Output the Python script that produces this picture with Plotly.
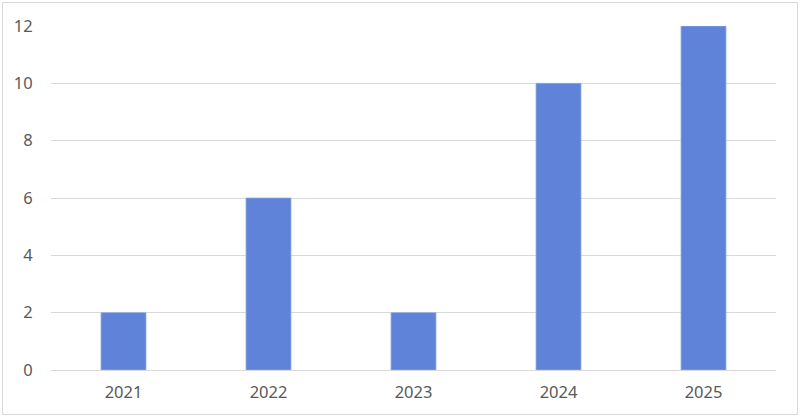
import plotly.graph_objects as go

years = ["2021", "2022", "2023", "2024", "2025"]
values = [2, 6, 2, 10, 12]
y_ticks = [0, 2, 4, 6, 8, 10, 12]

W, H = 800, 418
L, R, T, B = 51, 24, 26, 48
pw, ph = W - L - R, H - T - B

def px_x(p):
    return (p - L) / pw

def px_y(p):
    return (H - B - p) / ph

fig = go.Figure(go.Bar(
    x=years, y=values,
    marker=dict(color="#5f83d9", line=dict(color="#8fa9e6", width=0.8)),
))

fig.update_layout(
    width=W, height=H,
    margin=dict(l=L, r=R, t=T, b=B),
    paper_bgcolor="white", plot_bgcolor="white",
    bargap=0.69,
    showlegend=False,
    font=dict(family="Noto Sans", size=16.5, color="#595959"),
    xaxis=dict(showgrid=False, showline=True, linecolor="#d9d9d9", linewidth=1,
               ticks="outside", ticklen=7, tickcolor="rgba(0,0,0,0)"),
    yaxis=dict(range=[0, 12], tickvals=y_ticks, showgrid=True, gridcolor="#d9d9d9",
               gridwidth=1, zeroline=False, showline=False,
               ticks="outside", ticklen=14, tickcolor="rgba(0,0,0,0)"),
    shapes=[dict(type="rect", xref="paper", yref="paper",
                 x0=px_x(2.5), x1=px_x(797.5), y0=px_y(414.5), y1=px_y(2.5),
                 line=dict(color="#d9d9d9", width=1), layer="below")],
)

fig.write_html("out.html", config={"displayModeBar": False},
               post_script="document.body.style.margin='0';document.body.style.overflow='hidden';")
